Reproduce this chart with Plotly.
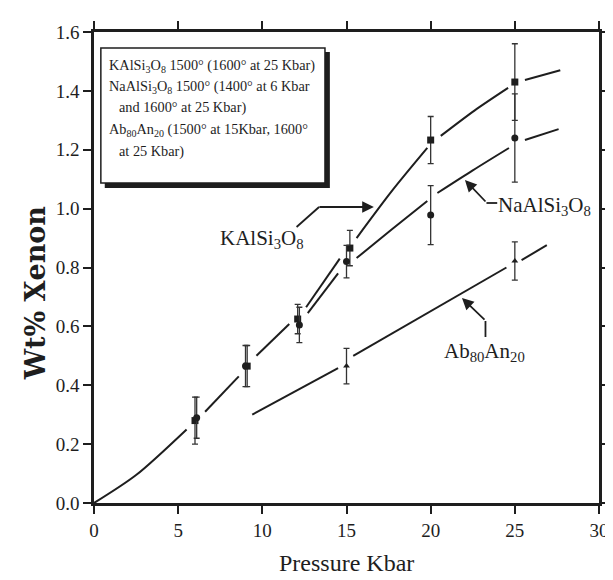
import plotly.graph_objects as go

# ---- data ----
p_kal = [6.0, 9.1, 12.1, 15.2, 20.0, 25.0]
wt_kal = [0.28, 0.465, 0.625, 0.866, 1.233, 1.43]
err_kal = [0.08, 0.07, 0.05, 0.06, 0.08, 0.13]

p_na = [6.1, 9.0, 12.2, 15.0, 20.0, 25.0]
wt_na = [0.29, 0.465, 0.605, 0.82, 0.978, 1.24]
err_na = [0.07, 0.07, 0.06, 0.055, 0.10, 0.15]

p_ab = [15.0, 25.0]
wt_ab = [0.465, 0.822]
err_ab = [0.06, 0.065]

# fitted curves as drawn (broken around the data points; None = gap)
curve_shared_x = [0, 2.5, 5.5, None, 6.6, 8.6, None, 9.65, 11.6]
curve_shared_y = [0, 0.095, 0.25, None, 0.31, 0.43, None, 0.50, 0.608]
curve_kal_x = [12.6, 14.6, None, 15.6, 17.7, 19.8, None, 20.6, 22.6, 24.6, None, 25.6, 27.7]
curve_kal_y = [0.665, 0.83, None, 0.90, 1.06, 1.206, None, 1.247, 1.333, 1.41, None, 1.437, 1.47]
curve_na_x = [12.7, 14.5, None, 15.6, 17.7, 19.8, None, 20.4, 22.5, 24.65, None, 25.6, 27.6]
curve_na_y = [0.645, 0.78, None, 0.832, 0.93, 1.026, None, 1.053, 1.13, 1.206, None, 1.233, 1.27]
curve_ab_x = [9.4, 14.5, None, 15.4, 24.5, None, 25.4, 26.9]
curve_ab_y = [0.30, 0.458, None, 0.50, 0.80, None, 0.825, 0.876]

x_ticks = [0, 5, 10, 15, 20, 25, 30]
y_ticks = [0.0, 0.2, 0.4, 0.6, 0.8, 1.0, 1.2, 1.4, 1.6]

INK = "#1e1e1e"
SERIF = "Liberation Serif, Times New Roman, serif"

fig = go.Figure()

# curves
for cx, cy in [(curve_shared_x, curve_shared_y), (curve_kal_x, curve_kal_y),
               (curve_na_x, curve_na_y), (curve_ab_x, curve_ab_y)]:
    fig.add_trace(go.Scatter(x=cx, y=cy, mode="lines", connectgaps=False,
                             line=dict(color=INK, width=2, shape="spline", smoothing=0.8),
                             hoverinfo="skip", showlegend=False))

# data points with error bars
series = [
    (p_kal, wt_kal, err_kal, "square", 7),
    (p_na, wt_na, err_na, "circle", 7),
    (p_ab, wt_ab, err_ab, "triangle-up", 6),
]
for px, py, pe, sym, sz in series:
    fig.add_trace(go.Scatter(
        x=px, y=py, mode="markers",
        marker=dict(symbol=sym, size=sz, color=INK),
        error_y=dict(type="data", array=pe, visible=True, color="#333333",
                     thickness=1.3, width=3),
        showlegend=False))

# ---- layout helpers (pixel -> paper) ----
L, R, T, B = 86, 602, 24, 495
def px2x(p):
    return (p - L) / (R - L)
def py2y(p):
    return (B - p) / (B - T)

shapes = []
# legend box with drop shadow
shapes.append(dict(type="rect", xref="paper", yref="paper",
                   x0=px2x(97), x1=px2x(327), y0=py2y(180), y1=py2y(44),
                   fillcolor=INK, line=dict(width=0)))
shapes.append(dict(type="rect", xref="paper", yref="paper",
                   x0=px2x(93), x1=px2x(322), y0=py2y(175), y1=py2y(40),
                   fillcolor="white", line=dict(color=INK, width=1.5)))
# leader line parts of arrows
shapes.append(dict(type="line", xref="paper", yref="paper",
                   x0=px2x(293), y0=py2y(219), x1=px2x(316), y1=py2y(199),
                   line=dict(color=INK, width=1.8)))
shapes.append(dict(type="line", xref="paper", yref="paper",
                   x0=px2x(487), y0=py2y(195), x1=px2x(498), y1=py2y(195),
                   line=dict(color=INK, width=1.8)))
shapes.append(dict(type="line", xref="paper", yref="paper",
                   x0=px2x(486), y0=py2y(313), x1=px2x(486), y1=py2y(329),
                   line=dict(color=INK, width=1.8)))

ann = []
def arrow(hx, hy, tx, ty):
    ann.append(dict(xref="paper", yref="paper", x=px2x(hx), y=py2y(hy),
                    ax=tx - hx, ay=ty - hy, text="", showarrow=True,
                    arrowhead=2, arrowsize=1.3, arrowwidth=1.8, arrowcolor=INK))

arrow(372, 199, 316, 199)
arrow(465, 172, 487, 195)
arrow(462, 290, 486, 313)

def label(text, xp, yp, size, anchor="center", **kw):
    ann.append(dict(xref="paper", yref="paper", x=px2x(xp), y=py2y(yp),
                    text=text, showarrow=False, xanchor=anchor, yanchor="middle",
                    font=dict(family=SERIF, size=size, color=INK), **kw))

legend_lines = [
    ("KAlSi<sub>3</sub>O<sub>8</sub> 1500° (1600° at 25 Kbar)", 99, 58),
    ("NaAlSi<sub>3</sub>O<sub>8</sub> 1500° (1400° at 6 Kbar", 99, 79),
    ("and 1600° at 25 Kbar)", 110, 100),
    ("Ab<sub>80</sub>An<sub>20</sub> (1500° at 15Kbar, 1600°", 99, 122),
    ("at 25 Kbar)", 110, 143),
]
for t, xp, yp in legend_lines:
    label(t, xp, yp, 14.3, anchor="left")

label("KAlSi<sub>3</sub>O<sub>8</sub>", 258, 231, 21)
label("NaAlSi<sub>3</sub>O<sub>8</sub>", 546, 198, 21)
label("Ab<sub>80</sub>An<sub>20</sub>", 485, 344, 21)

# axis titles
label("Pressure Kbar", 344, 555, 24)
ann.append(dict(xref="paper", yref="paper", x=px2x(26), y=py2y(285),
                text="<b>Wt% Xenon</b>", showarrow=False, textangle=-90,
                xanchor="center", yanchor="middle",
                font=dict(family="DejaVu Serif, serif", size=27, color=INK)))

axis_common = dict(showline=True, linecolor=INK, linewidth=2.5, mirror="ticks",
                   ticks="outside", ticklen=8, tickwidth=2, tickcolor=INK,
                   showgrid=False, zeroline=False,
                   tickfont=dict(family=SERIF, size=19, color=INK))

fig.update_layout(
    width=613, height=580,
    margin=dict(l=L, r=613 - R, t=T, b=580 - B),
    paper_bgcolor="white", plot_bgcolor="white",
    showlegend=False,
    xaxis=dict(range=[0, 30], tickvals=x_ticks, ticktext=[str(v) for v in x_ticks], **axis_common),
    yaxis=dict(range=[0, 1.6], tickvals=y_ticks, ticktext=[f"{v:.1f}" for v in y_ticks], **axis_common),
    shapes=shapes,
    annotations=ann,
)

fig.write_html("out.html")
